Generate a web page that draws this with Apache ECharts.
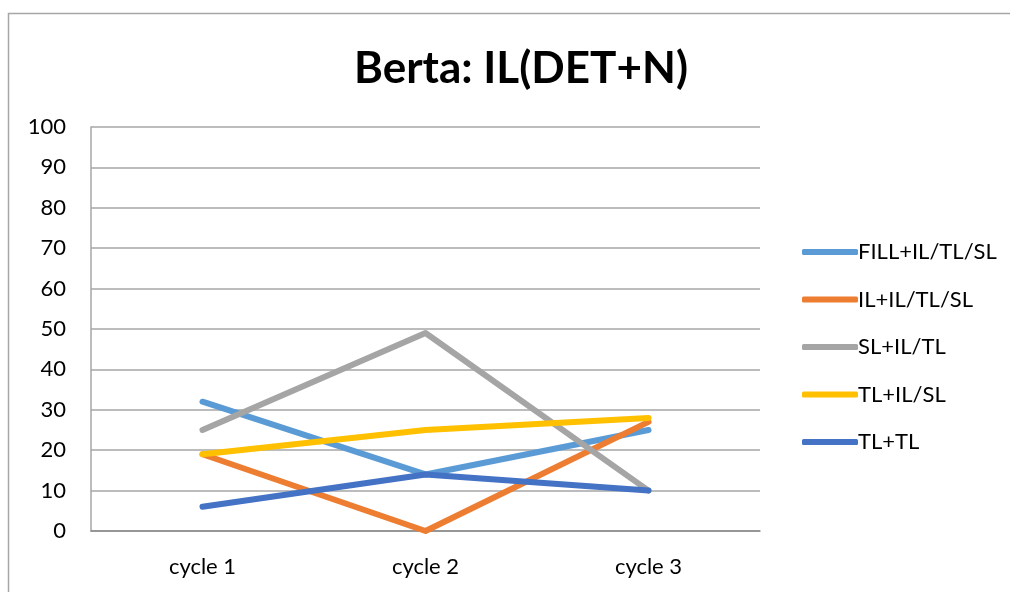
<!DOCTYPE html>
<html><head><meta charset="utf-8">
<script src="https://cdn.jsdelivr.net/npm/echarts@6/dist/echarts.min.js"></script>
<style>html,body{margin:0;padding:0;background:#fff}#c{width:1010px;height:592px}</style>
</head><body><div id="c"></div>
<script>
const categories = ['cycle 1', 'cycle 2', 'cycle 3'];
const seriesNames = ['FILL+IL/TL/SL', 'IL+IL/TL/SL', 'SL+IL/TL', 'TL+IL/SL', 'TL+TL'];
const fill = [32, 14, 25];
const il = [19, 0, 27];
const sl = [25, 49, 10];
const tlIlSl = [19, 25, 28];
const tlTl = [6, 14, 10];
const yTicks = [0, 10, 20, 30, 40, 50, 60, 70, 80, 90, 100];
const colors = ['#5b9bd5', '#ed7d31', '#a5a5a5', '#ffc000', '#4472c4'];
const values = [fill, il, sl, tlIlSl, tlTl];

const chart = echarts.init(document.getElementById('c'));
const font = 'Lato, "Open Sans", sans-serif';
chart.setOption({
  animation: false,
  graphic: [{type: 'rect', shape: {x: 8.5, y: 13.5, width: 1100, height: 700}, style: {fill: 'none', stroke: '#a6a6a6', lineWidth: 1.5}}],
  title: {text: 'Berta: IL(DET+N)', left: 516, top: 42, textAlign: 'center',
    textStyle: {fontFamily: font, fontWeight: 'bold', fontSize: 44, color: '#000'}},
  legend: {orient: 'vertical', left: 797, top: 236, itemGap: 25.5, itemWidth: 56, itemHeight: 6,
    icon: 'roundRect',
    textStyle: {fontFamily: font, fontSize: 22, color: '#000', padding: [0, 0, 0, -5]},
    data: seriesNames},
  grid: {left: 91, right: 250, top: 127, bottom: 61},
  xAxis: {type: 'category', data: categories, boundaryGap: true,
    axisLine: {lineStyle: {color: '#898989', width: 1.5}}, axisTick: {show: false},
    axisLabel: {fontFamily: font, fontSize: 22, color: '#000', margin: 25}},
  yAxis: {type: 'value', min: 0, max: 100, interval: 10,
    axisLine: {show: true, lineStyle: {color: '#a6a6a6', width: 1.5}}, axisTick: {show: false},
    splitLine: {lineStyle: {color: '#a6a6a6', width: 1.5}},
    axisLabel: {fontFamily: font, fontSize: 22, color: '#000', margin: 25,
      formatter: v => yTicks.includes(v) ? String(v) : ''}},
  series: seriesNames.map((n, i) => ({
    name: n, type: 'line', data: values[i], symbol: 'none',
    itemStyle: {color: colors[i]},
    lineStyle: {color: colors[i], width: 6, cap: 'round', join: 'round'}
  }))
});
</script></body></html>
